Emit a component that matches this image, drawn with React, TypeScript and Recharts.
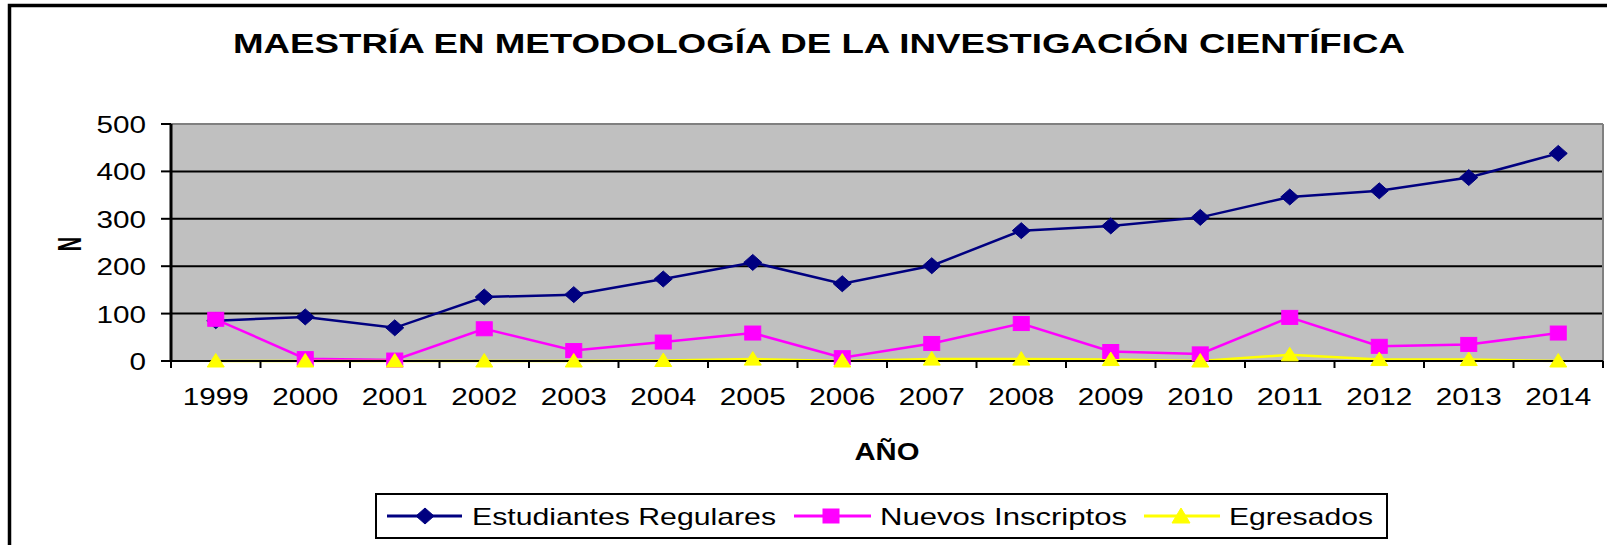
import React from 'react';
import { LineChart, Line, XAxis, YAxis, CartesianGrid, Legend } from 'recharts';

const years = ['1999', '2000', '2001', '2002', '2003', '2004', '2005', '2006', '2007', '2008', '2009', '2010', '2011', '2012', '2013', '2014'];
const estudiantes = [85, 93, 70, 135, 140, 173, 208, 163, 201, 275, 285, 303, 346, 359, 387, 438];
const nuevos = [88, 5, 2, 68, 22, 40, 59, 7, 37, 79, 20, 15, 92, 31, 35, 59];
const egresados = [0, 0, 0, 0, 0, 1, 4, 0, 4, 4, 3, 0, 13, 3, 3, 0];
const yTicks = [0, 100, 200, 300, 400, 500];
const seriesNames = ['Estudiantes Regulares', 'Nuevos Inscriptos', 'Egresados'];
const titleText = 'MAESTRÍA EN METODOLOGÍA DE LA INVESTIGACIÓN CIENTÍFICA';
const yLabel = 'N';
const xLabel = 'AÑO';

const data = years.map((year, i) => ({
  year,
  est: estudiantes[i],
  nue: nuevos[i],
  egr: egresados[i],
}));

const W = 1607;
const H = 545;
const PLOT = { left: 171, top: 124, right: 1603, bottom: 361 };
const Y_AXIS_W = 60;
const X_AXIS_H = 50;
const HALF_BAND = (PLOT.right - PLOT.left) / years.length / 2;
const FONT = "'Liberation Sans', Arial, sans-serif";
const DIGIT_W = 16.5;

const NAVY = '#000080';
const MAGENTA = '#FF00FF';
const YELLOW = '#FFFF00';

const Diamond = ({ cx, cy, w = 9, h = 8 }: any) => (
  <path d={`M${cx},${cy - h} L${cx + w},${cy} L${cx},${cy + h} L${cx - w},${cy} Z`} fill={NAVY} stroke={NAVY} strokeWidth={1} />
);
const Square = ({ cx, cy, w = 8, h = 7 }: any) => (
  <rect x={cx - w} y={cy - h} width={2 * w} height={2 * h} fill={MAGENTA} stroke={MAGENTA} strokeWidth={1} />
);
const Triangle = ({ cx, cy, w = 8.5, up = 7.5, down = 6 }: any) => (
  <path d={`M${cx},${cy - up} L${cx + w},${cy + down} L${cx - w},${cy + down} Z`} fill={YELLOW} stroke={YELLOW} strokeWidth={1} />
);

const dotFor = (Shape: any) => (props: any) => {
  const { cx, cy, index } = props;
  if (cx == null || cy == null) return <g key={index} />;
  return <Shape key={index} cx={cx} cy={cy} />;
};

const XTick = (props: any) => {
  const { x, payload, index } = props;
  const label = String(payload.value);
  return (
    <g>
      <line x1={x - HALF_BAND} x2={x - HALF_BAND} y1={PLOT.bottom} y2={PLOT.bottom + 7} stroke="#000" strokeWidth={2} />
      {index === years.length - 1 && (
        <line x1={x + HALF_BAND} x2={x + HALF_BAND} y1={PLOT.bottom} y2={PLOT.bottom + 7} stroke="#000" strokeWidth={2} />
      )}
      <text x={x} y={PLOT.bottom + 44} textAnchor="middle" fontSize={23} fontFamily={FONT} fill="#000"
        textLength={label.length * DIGIT_W} lengthAdjust="spacingAndGlyphs">{label}</text>
    </g>
  );
};

const YTick = (props: any) => {
  const { y, payload } = props;
  const label = String(payload.value);
  return (
    <text x={PLOT.left - 25} y={y + 9} textAnchor="end" fontSize={23} fontFamily={FONT} fill="#000"
      textLength={label.length * DIGIT_W} lengthAdjust="spacingAndGlyphs">{label}</text>
  );
};

const LEG = { left: 375, top: 493, width: 1013, height: 46 };
const legendItems = [
  { name: seriesNames[0], color: NAVY, Shape: Diamond, x1: 12, x2: 87, mx: 50, tx: 97, tl: 304 },
  { name: seriesNames[1], color: MAGENTA, Shape: Square, x1: 419, x2: 496, mx: 456, tx: 505, tl: 247 },
  { name: seriesNames[2], color: YELLOW, Shape: Triangle, x1: 769, x2: 845, mx: 806, tx: 854, tl: 144 },
];

const LegendContent = () => (
  <svg width={LEG.width} height={LEG.height} style={{ display: 'block' }}>
    <rect x={1} y={1} width={LEG.width - 2} height={LEG.height - 2} fill="#fff" stroke="#000" strokeWidth={2} />
    {legendItems.map((it) => (
      <g key={it.name}>
        <line x1={it.x1} x2={it.x2} y1={23} y2={23} stroke={it.color} strokeWidth={3} />
        {it.Shape === Diamond && <Diamond cx={it.mx} cy={23} w={9} h={8} />}
        {it.Shape === Square && <Square cx={it.mx} cy={23} w={8} h={7} />}
        {it.Shape === Triangle && <Triangle cx={it.mx} cy={23} w={9} up={8} down={7} />}
        <text x={it.tx} y={31.5} fontSize={24} fontFamily={FONT} fill="#000"
          textLength={it.tl} lengthAdjust="spacingAndGlyphs">{it.name}</text>
      </g>
    ))}
  </svg>
);

export default function App() {
  return (
    <div style={{ position: 'absolute', left: 0, top: 0, width: W, height: H, background: '#fff' }}>
      <LineChart
        width={W}
        height={H}
        data={data}
        margin={{ top: PLOT.top, right: W - PLOT.right, left: PLOT.left - Y_AXIS_W, bottom: H - PLOT.bottom - X_AXIS_H }}
        style={{ fontFamily: FONT }}
      >
        <CartesianGrid vertical={false} stroke="#000" strokeWidth={2} fill="#C0C0C0" fillOpacity={1} />
        <CartesianGrid
          horizontalCoordinatesGenerator={({ offset }: any) => [offset.top]}
          verticalCoordinatesGenerator={({ offset }: any) => [offset.left + offset.width]}
          stroke="#808080"
          strokeWidth={2}
        />
        <XAxis
          dataKey="year"
          height={X_AXIS_H}
          padding={{ left: HALF_BAND, right: HALF_BAND }}
          axisLine={{ stroke: '#000', strokeWidth: 2 }}
          tickLine={false}
          tick={<XTick />}
          interval={0}
        />
        <YAxis
          width={Y_AXIS_W}
          domain={[0, 500]}
          ticks={yTicks}
          interval={0}
          axisLine={{ stroke: '#000', strokeWidth: 3 }}
          tickLine={{ stroke: '#000', strokeWidth: 2 }}
          tickSize={10}
          tick={<YTick />}
        />
        <Legend
          layout="horizontal"
          verticalAlign="middle"
          align="center"
          content={<LegendContent />}
          wrapperStyle={{ position: 'absolute', left: LEG.left, top: LEG.top, width: LEG.width, height: LEG.height }}
        />
        <Line dataKey="est" name={seriesNames[0]} stroke={NAVY} strokeWidth={2.5} dot={dotFor(Diamond)} activeDot={false} isAnimationActive={false} />
        <Line dataKey="nue" name={seriesNames[1]} stroke={MAGENTA} strokeWidth={2.5} dot={dotFor(Square)} activeDot={false} isAnimationActive={false} />
        <Line dataKey="egr" name={seriesNames[2]} stroke={YELLOW} strokeWidth={2.5} dot={dotFor(Triangle)} activeDot={false} isAnimationActive={false} />
      </LineChart>
      <svg width={W} height={H} style={{ position: 'absolute', left: 0, top: 0, pointerEvents: 'none' }}>
        <path d={`M9.5,${H} V5.5 H${W}`} fill="none" stroke="#000" strokeWidth={3.5} />
        <text x={233} y={53} fontSize={27.5} fontWeight="bold" fontFamily={FONT} fill="#000"
          textLength={1172} lengthAdjust="spacingAndGlyphs">{titleText}</text>
        <text transform="translate(81,244) scale(1.65,1) rotate(-90)" textAnchor="middle" fontSize={20}
          fontWeight="bold" fontFamily={FONT} fill="#000">{yLabel}</text>
        <text x={(PLOT.left + PLOT.right) / 2} y={460} textAnchor="middle" fontSize={23.5} fontWeight="bold"
          fontFamily={FONT} fill="#000" textLength={65} lengthAdjust="spacingAndGlyphs">{xLabel}</text>
      </svg>
    </div>
  );
}
